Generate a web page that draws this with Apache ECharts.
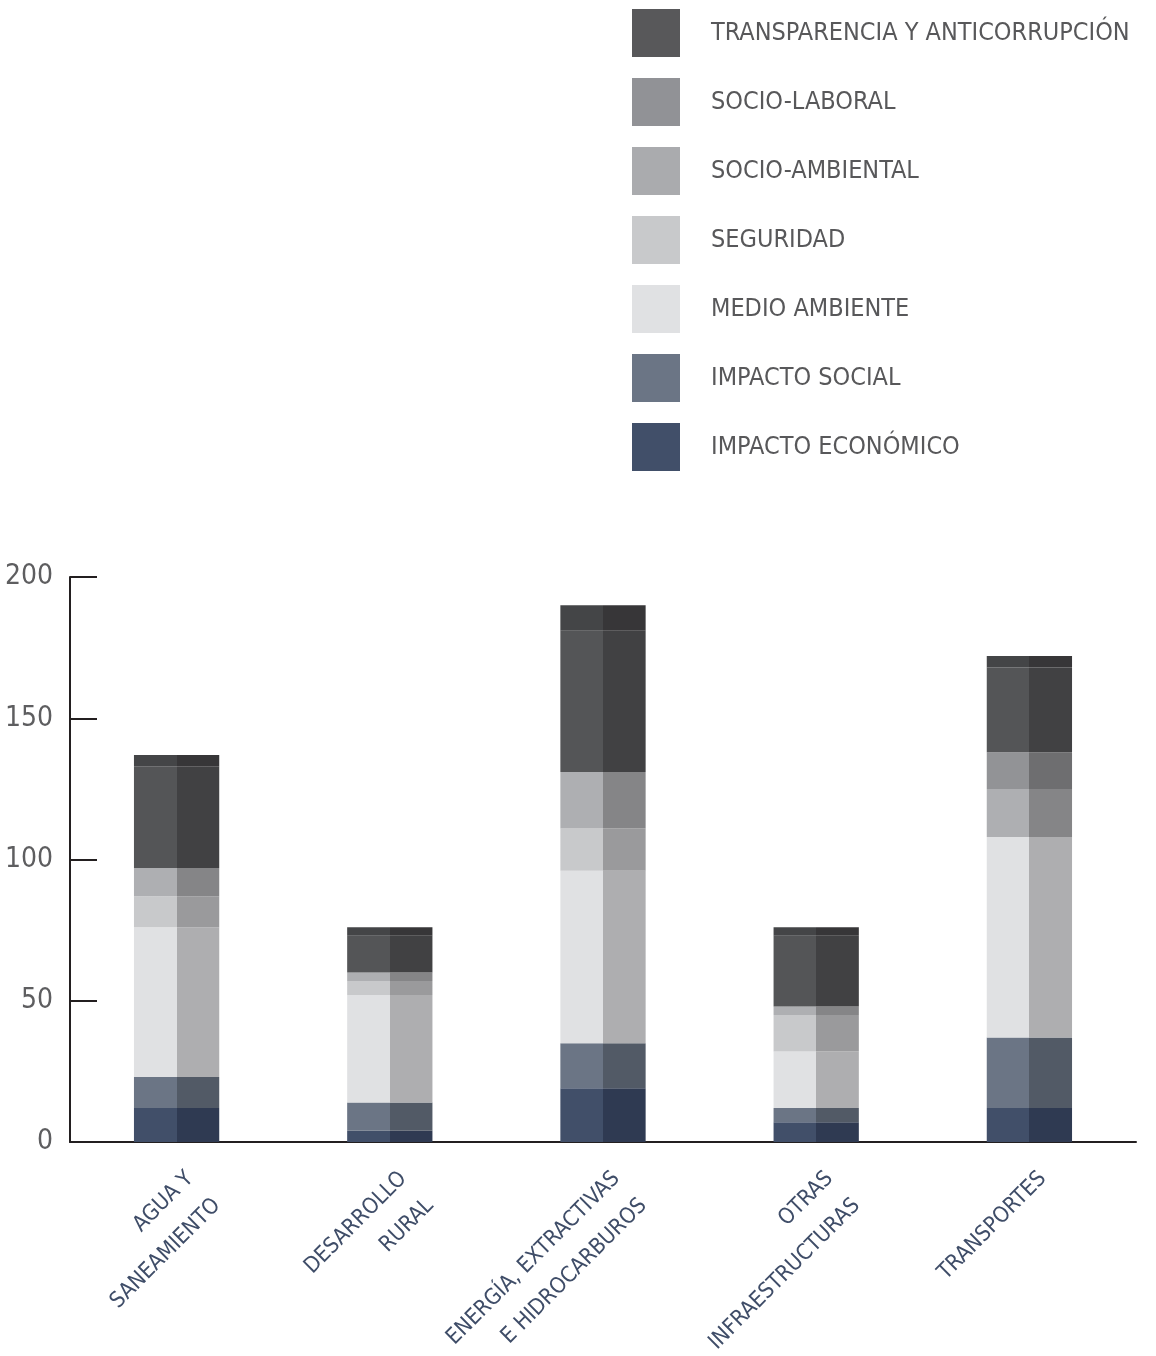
<!DOCTYPE html>
<html>
<head>
<meta charset="utf-8">
<script src="https://cdn.jsdelivr.net/npm/echarts@6/dist/echarts.min.js"></script>
<style>
  html, body { margin: 0; padding: 0; background: #fff; }
  #main { width: 1156px; height: 1356px; }
</style>
</head>
<body>
<div id="main"></div>
<script>
// categorías (eje x)
const categories = [
  'AGUA Y\nSANEAMIENTO',
  'DESARROLLO\nRURAL',
  'ENERGÍA, EXTRACTIVAS\nE HIDROCARBUROS',
  'OTRAS\nINFRAESTRUCTURAS',
  'TRANSPORTES'
]

// valores por tipo de impacto, de abajo hacia arriba en la pila
const impactoEconomico = [12, 4, 19, 7, 12]
const impactoSocial = [11, 10, 16, 5, 25]
const medioAmbiente = [53, 38, 61, 20, 71]
const seguridad = [11, 5, 15, 13, 0]
const socioAmbiental = [10, 3, 20, 3, 17]
const socioLaboral = [0, 0, 0, 0, 13]
const transparencia = [36, 13, 50, 25, 30]
const otros = [4, 3, 9, 3, 4] // franja superior sin leyenda

const yTicks = [0, 50, 100, 150, 200]

const FONT = '"DejaVu Sans Condensed", "Liberation Sans", sans-serif'

// mitad izquierda clara, mitad derecha oscura
function split(left, right) {
  return {
    type: 'linear', x: 0, y: 0, x2: 1, y2: 0,
    colorStops: [
      { offset: 0, color: left },
      { offset: 0.5, color: left },
      { offset: 0.5, color: right },
      { offset: 1, color: right }
    ]
  }
}

function bar(name, data, left, right) {
  return {
    name: name,
    type: 'bar',
    stack: 'total',
    barWidth: '40%',
    data: data,
    itemStyle: { color: split(left, right) },
    emphasis: { disabled: true }
  }
}

const chart = echarts.init(document.getElementById('main'))

chart.setOption({
  animation: false,
  legend: {
    orient: 'vertical',
    left: 632,
    top: 9,
    padding: 0,
    itemWidth: 48,
    itemHeight: 48,
    itemGap: 21,
    icon: 'rect',
    selectedMode: false,
    textStyle: {
      color: '#58585a',
      fontSize: 25,
      fontFamily: FONT,
      padding: [0, 0, 0, 26]
    },
    data: [
      { name: 'TRANSPARENCIA Y ANTICORRUPCIÓN', itemStyle: { color: '#58585a' } },
      { name: 'SOCIO-LABORAL', itemStyle: { color: '#919296' } },
      { name: 'SOCIO-AMBIENTAL', itemStyle: { color: '#aaabae' } },
      { name: 'SEGURIDAD', itemStyle: { color: '#c8c9cb' } },
      { name: 'MEDIO AMBIENTE', itemStyle: { color: '#e0e1e3' } },
      { name: 'IMPACTO SOCIAL', itemStyle: { color: '#6b7585' } },
      { name: 'IMPACTO ECONÓMICO', itemStyle: { color: '#414f69' } }
    ]
  },
  grid: {
    left: 70,
    right: 20,
    top: 577,
    bottom: 214,
    containLabel: false,
    outerBoundsMode: 'none'
  },
  xAxis: {
    type: 'category',
    data: categories,
    axisLine: { lineStyle: { color: '#231f20', width: 2 } },
    axisTick: { inside: true, length: 14, lineStyle: { color: '#231f20', width: 2 } },
    axisLabel: {
      rotate: 45,
      margin: 20,
      align: 'right',
      verticalAlign: 'top',
      color: '#3f4d68',
      fontSize: 22,
      lineHeight: 38,
      fontFamily: FONT,
      interval: 0
    }
  },
  yAxis: {
    type: 'value',
    min: yTicks[0],
    max: yTicks[yTicks.length - 1],
    interval: 50,
    splitLine: { show: false },
    axisLine: { show: true, lineStyle: { color: '#231f20', width: 2 } },
    axisTick: { show: true, inside: true, length: 27, lineStyle: { color: '#231f20', width: 2 } },
    axisLabel: {
      color: '#5e5e60',
      fontSize: 28,
      fontFamily: FONT,
      margin: 17
    }
  },
  series: [
    bar('IMPACTO ECONÓMICO', impactoEconomico, '#414f69', '#2f3a52'),
    bar('IMPACTO SOCIAL', impactoSocial, '#6b7585', '#525a66'),
    bar('MEDIO AMBIENTE', medioAmbiente, '#e0e1e3', '#aeaeb0'),
    bar('SEGURIDAD', seguridad, '#c8c9cb', '#9a9a9c'),
    bar('SOCIO-AMBIENTAL', socioAmbiental, '#aeafb2', '#858587'),
    bar('SOCIO-LABORAL', socioLaboral, '#929396', '#6e6e70'),
    bar('TRANSPARENCIA Y ANTICORRUPCIÓN', transparencia, '#545557', '#414143'),
    bar('OTROS', otros, '#444547', '#373638')
  ]
})
</script>
</body>
</html>
